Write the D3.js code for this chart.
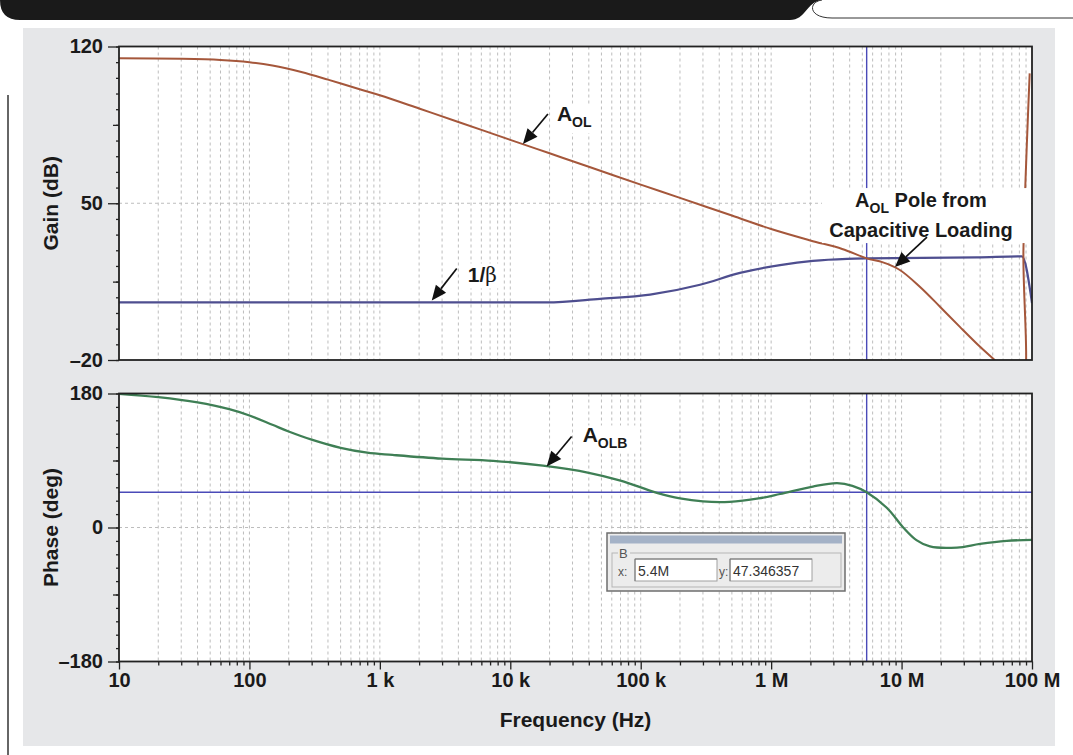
<!DOCTYPE html>
<html>
<head>
<meta charset="utf-8">
<script src="https://cdn.jsdelivr.net/npm/d3@7"></script>
<style>
html, body { margin: 0; padding: 0; background: #fff; }
svg { display: block; font-family: "Liberation Sans", Arial, sans-serif; }
</style>
</head>
<body>
<svg id="chart" width="1073" height="755"></svg>
<script>
// open-loop gain A_OL (dB)
const aolFreq = [10, 30, 60, 100, 150, 250, 400, 700, 1000, 2000, 4000, 10000, 20000, 40000, 100000, 200000, 500000,
  1e6, 2e6, 3.5e6, 5.4e6, 7.2e6, 9.7e6, 13.8e6, 19.7e6, 28e6, 40e6, 54e6, 70e6, 84e6, 86e6, 96e6];
const aolGain = [114.7, 114.5, 114.0, 113.0, 111.5, 108.6, 105.2, 100.9, 98.2, 92.3, 86.3, 78.3, 72.3, 66.3, 58.3, 52.4, 44.5,
  38.5, 33.4, 29.6, 25.4, 23.6, 20.2, 12.7, 3.8, -5.2, -14.1, -21, -27, -30, 30, 108];

// 1/beta (dB)
const betaFreq = [10, 1000, 10000, 19000, 48800, 118000, 285000, 577000, 1.17e6, 2.09e6, 3.82e6, 5.43e6, 37.8e6, 83.8e6, 100e6];
const betaGain = [5.7, 5.7, 5.7, 5.7, 7.3, 9.2, 13.6, 18.9, 22.4, 24.3, 25.2, 25.4, 25.8, 26.3, 5.4];

// loop phase A_OL*B (deg)
const phaseFreq = [10, 20, 40, 70, 100, 150, 200, 300, 500, 800, 1250, 3000, 7400, 17800, 40000, 70000, 133000, 200000,
  300000, 480000, 800000, 1.17e6, 2.09e6, 3.2e6, 4.2e6, 5.4e6, 7.7e6, 10.3e6, 13e6, 16.5e6, 26.6e6, 40e6, 64e6, 100e6];
const phaseDeg = [179.5, 175, 168, 159, 150.5, 138, 129, 118, 107, 100.5, 97.5, 92.5, 89.5, 83, 73.5, 63, 46.6, 39,
  35, 34.5, 39, 45, 55, 59.5, 56, 47.3, 26.5, 0, -17, -25.5, -27, -22, -18, -16.5];

// cursor B
const cursorFreq = 5.4e6;
const cursorPhase = 47.346357;
const cursorLabels = ["5.4M", "47.346357"];

// axes
const xDecades = [10, 100, 1e3, 1e4, 1e5, 1e6, 1e7, 1e8];
const xTickLabels = ["10", "100", "1 k", "10 k", "100 k", "1 M", "10 M", "100 M"];
const gainLabeled = [120, 50, -20];
const gainMajor = [85, 15];
const phaseLabeled = [180, 0, -180];
const phaseMajor = [90, -90];

const colors = { aol: "#a5573b", beta: "#4e4e8f", phase: "#3f7f55", cursor: "#4a4ab8", grid: "#bdbdbd", panel: "#e6e7e9" };

const svg = d3.select("#chart");

// page decoration
svg.append("path")
  .attr("d", "M0,0 H822 C806,2 806,20 790,20 H20 Q0,20 0,0 Z")
  .attr("fill", "#1a1a1a");
svg.append("path")
  .attr("d", "M822,0 C808,2 808,18 832,18 H1073")
  .attr("fill", "none").attr("stroke", "#333").attr("stroke-width", 1);
svg.append("rect").attr("x", 23).attr("y", 28).attr("width", 1032).attr("height", 718).attr("fill", colors.panel);
svg.append("line").attr("x1", 8).attr("x2", 8).attr("y1", 95).attr("y2", 755)
  .attr("stroke", "#333").attr("stroke-width", 1.5);

const left = 119, right = 1032;
const x = d3.scaleLog().domain([10, 1e8]).range([left, right]);
const yGain = d3.scaleLinear().domain([-20, 120]).range([360, 46.5]);
const yPhase = d3.scaleLinear().domain([-180, 180]).range([661.5, 393.5]);

const minorFreqs = xDecades.slice(0, -1).flatMap(d => d3.range(2, 10).map(m => m * d));
const gridFreqs = minorFreqs.concat(xDecades.slice(1, -1));
const fmt = d => d < 0 ? "\u2013" + Math.abs(d) : String(d);

function panel(y, labeled, major, minorStep, hGrid, id) {
  const [y0, y1] = y.range();
  const g = svg.append("g");
  g.append("rect").attr("x", left).attr("y", y1).attr("width", right - left).attr("height", y0 - y1).attr("fill", "#fff");
  svg.append("clipPath").attr("id", id).append("rect")
    .attr("x", left).attr("y", y1).attr("width", right - left).attr("height", y0 - y1);
  // grid
  g.selectAll(".vg").data(gridFreqs).join("line")
    .attr("x1", d => x(d)).attr("x2", d => x(d)).attr("y1", y1).attr("y2", y0)
    .attr("stroke", colors.grid).attr("stroke-dasharray", "3,3");
  g.selectAll(".hg").data(hGrid).join("line")
    .attr("x1", left).attr("x2", right).attr("y1", d => y(d)).attr("y2", d => y(d))
    .attr("stroke", colors.grid).attr("stroke-dasharray", "3,3");
  // cursor
  g.append("line").attr("x1", x(cursorFreq)).attr("x2", x(cursorFreq)).attr("y1", y1).attr("y2", y0)
    .attr("stroke", colors.cursor).attr("stroke-width", 1.4);
  // y ticks
  const [dmin, dmax] = y.domain();
  const axes = [
    d3.axisLeft(y).tickValues(d3.range(dmin, dmax + 0.1, minorStep)).tickSize(3).tickFormat(""),
    d3.axisLeft(y).tickValues(major).tickSize(6).tickFormat(""),
    d3.axisLeft(y).tickValues(labeled).tickSize(11).tickPadding(5).tickFormat(fmt)
  ];
  axes.forEach(a => {
    const ag = svg.append("g").attr("transform", `translate(${left},0)`).call(a);
    ag.select(".domain").remove();
    ag.selectAll("line").attr("stroke", "#222").attr("stroke-width", 1.3);
    ag.selectAll("text").attr("fill", "#1a1a1a").attr("font-size", 20).attr("font-weight", "bold");
  });
  return g;
}

const gainG = panel(yGain, gainLabeled, gainMajor, 7, [50], "clipGain");
const phaseG = panel(yPhase, phaseLabeled, phaseMajor, 18, [0], "clipPhase");

phaseG.append("line").attr("x1", left).attr("x2", right)
  .attr("y1", yPhase(cursorPhase)).attr("y2", yPhase(cursorPhase))
  .attr("stroke", colors.cursor).attr("stroke-width", 1.4);

// x axis
const xMinor = d3.axisBottom(x).tickValues(minorFreqs).tickSize(4).tickFormat("");
const xMajor = d3.axisBottom(x).tickValues(xDecades).tickSize(8).tickPadding(3)
  .tickFormat((d, i) => xTickLabels[i]);
[xMinor, xMajor].forEach(a => {
  const ag = svg.append("g").attr("transform", `translate(0,${yPhase(-180)})`).call(a);
  ag.select(".domain").remove();
  ag.selectAll("line").attr("stroke", "#222").attr("stroke-width", 1.3);
  ag.selectAll("text").attr("fill", "#1a1a1a").attr("font-size", 20).attr("font-weight", "bold");
});

// curves
const curve = (fs, vs, y, c) => d3.line().x((d, i) => x(fs[i])).y((d, i) => y(vs[i])).curve(c)(fs);
const smooth = d3.curveCatmullRom.alpha(0.5);
gainG.append("path").attr("d", curve(betaFreq, betaGain, yGain, d3.curveMonotoneX)).attr("clip-path", "url(#clipGain)")
  .attr("fill", "none").attr("stroke", colors.beta).attr("stroke-width", 2.2);
gainG.append("path").attr("d", curve(aolFreq, aolGain, yGain, smooth)).attr("clip-path", "url(#clipGain)")
  .attr("fill", "none").attr("stroke", colors.aol).attr("stroke-width", 2);
phaseG.append("path").attr("d", curve(phaseFreq, phaseDeg, yPhase, smooth)).attr("clip-path", "url(#clipPhase)")
  .attr("fill", "none").attr("stroke", colors.phase).attr("stroke-width", 2.3);

// borders
[yGain, yPhase].forEach(y => {
  const [y0, y1] = y.range();
  svg.append("rect").attr("x", left).attr("y", y1).attr("width", right - left).attr("height", y0 - y1)
    .attr("fill", "none").attr("stroke", "#222").attr("stroke-width", 1.8);
});

// axis titles
svg.append("text").attr("x", (left + right) / 2).attr("y", 727).attr("text-anchor", "middle")
  .attr("font-size", 21).attr("font-weight", "bold").attr("fill", "#1a1a1a").text("Frequency (Hz)");
[["Gain (dB)", yGain], ["Phase (deg)", yPhase]].forEach(([t, y]) => {
  const c = d3.mean(y.range());
  svg.append("text").attr("transform", `translate(58,${c}) rotate(-90)`).attr("text-anchor", "middle")
    .attr("font-size", 21).attr("font-weight", "bold").attr("fill", "#1a1a1a").text(t);
});

// annotations
function arrow(x1, y1, x2, y2) {
  const a = Math.atan2(y2 - y1, x2 - x1), L = 15, W = 6.5;
  const bx = x2 - L * Math.cos(a), by = y2 - L * Math.sin(a);
  svg.append("line").attr("x1", x1).attr("y1", y1).attr("x2", bx).attr("y2", by)
    .attr("stroke", "#111").attr("stroke-width", 1.7);
  svg.append("path")
    .attr("d", `M${x2},${y2} L${bx + W * Math.sin(a)},${by - W * Math.cos(a)} L${bx - W * Math.sin(a)},${by + W * Math.cos(a)} Z`)
    .attr("fill", "#111");
}
function box(x0, y0, w, h) {
  svg.append("rect").attr("x", x0).attr("y", y0).attr("width", w).attr("height", h).attr("fill", "#fff");
}
function subLabel(tx, ty, main, sub) {
  const t = svg.append("text").attr("x", tx).attr("y", ty).attr("font-weight", "bold").attr("fill", "#1a1a1a");
  t.append("tspan").attr("font-size", 21).text(main);
  t.append("tspan").attr("font-size", 14).attr("dy", 6).text(sub);
  return t;
}

// A_OL
const aolTip = [x(12500), yGain(76) - 1];
box(aolTip[0] + 30, aolTip[1] - 38, 44, 27);
arrow(aolTip[0] + 25, aolTip[1] - 30, aolTip[0], aolTip[1]);
subLabel(aolTip[0] + 34, aolTip[1] - 23, "A", "OL");

// 1/beta
const betaTip = [x(2500), yGain(5.7) - 2];
box(betaTip[0] + 32, betaTip[1] - 37, 36, 25);
arrow(betaTip[0] + 25, betaTip[1] - 32, betaTip[0], betaTip[1]);
const bt = svg.append("text").attr("x", betaTip[0] + 36).attr("y", betaTip[1] - 18).attr("fill", "#1a1a1a").attr("font-size", 21);
bt.append("tspan").attr("font-weight", "bold").text("1/");
bt.append("tspan").attr("font-family", "DejaVu Serif, serif").attr("font-size", 20).text("\u03b2");

// pole annotation
const poleTip = [x(8.9e6), yGain(21.5)];
box(poleTip[0] - 73, poleTip[1] - 79, 208, 55);
arrow(poleTip[0] + 32, poleTip[1] - 30, poleTip[0], poleTip[1]);
const pt = svg.append("text").attr("x", poleTip[0] + 26).attr("y", poleTip[1] - 60).attr("text-anchor", "middle")
  .attr("font-weight", "bold").attr("fill", "#1a1a1a").attr("font-size", 20);
pt.append("tspan").text("A");
pt.append("tspan").attr("font-size", 14).attr("dy", 6).text("OL");
pt.append("tspan").attr("dy", -6).text(" Pole from");
svg.append("text").attr("x", poleTip[0] + 26).attr("y", poleTip[1] - 30).attr("text-anchor", "middle")
  .attr("font-weight", "bold").attr("fill", "#1a1a1a").attr("font-size", 20).text("Capacitive Loading");

// A_OLB
const olbTip = [x(19000), yPhase(82)];
box(olbTip[0] + 33, olbTip[1] - 41, 58, 28);
arrow(olbTip[0] + 25, olbTip[1] - 30, olbTip[0], olbTip[1]);
subLabel(olbTip[0] + 36, olbTip[1] - 24, "A", "OLB");

// cursor readout
const cb = svg.append("g").attr("transform", "translate(607,533)");
cb.append("rect").attr("width", 238).attr("height", 58).attr("fill", "#ececec").attr("stroke", "#6e6e6e").attr("stroke-width", 1.5);
cb.append("rect").attr("x", 3).attr("y", 2.5).attr("width", 232).attr("height", 8).attr("fill", "#a4b2c7");
cb.append("rect").attr("x", 5).attr("y", 20).attr("width", 229).attr("height", 34).attr("fill", "none").attr("stroke", "#b5b5b5");
cb.append("rect").attr("x", 11).attr("y", 14).attr("width", 12).attr("height", 12).attr("fill", "#ececec");
cb.append("text").attr("x", 12).attr("y", 25).attr("font-size", 13).attr("fill", "#555").text("B");
cb.append("text").attr("x", 11).attr("y", 43).attr("font-size", 12).attr("fill", "#555").text("x:");
cb.append("text").attr("x", 112).attr("y", 43).attr("font-size", 12).attr("fill", "#555").text("y:");
[28, 123].forEach((bx, i) => {
  cb.append("rect").attr("x", bx).attr("y", 26).attr("width", 82).attr("height", 22).attr("fill", "#fff").attr("stroke", "#a0a0a0");
  cb.append("path").attr("d", `M${bx},48 V26 H${bx + 82}`).attr("fill", "none").attr("stroke", "#777");
  cb.append("text").attr("x", bx + 3).attr("y", 43).attr("font-size", 14).attr("fill", "#333").text(cursorLabels[i]);
});
</script>
</body>
</html>
